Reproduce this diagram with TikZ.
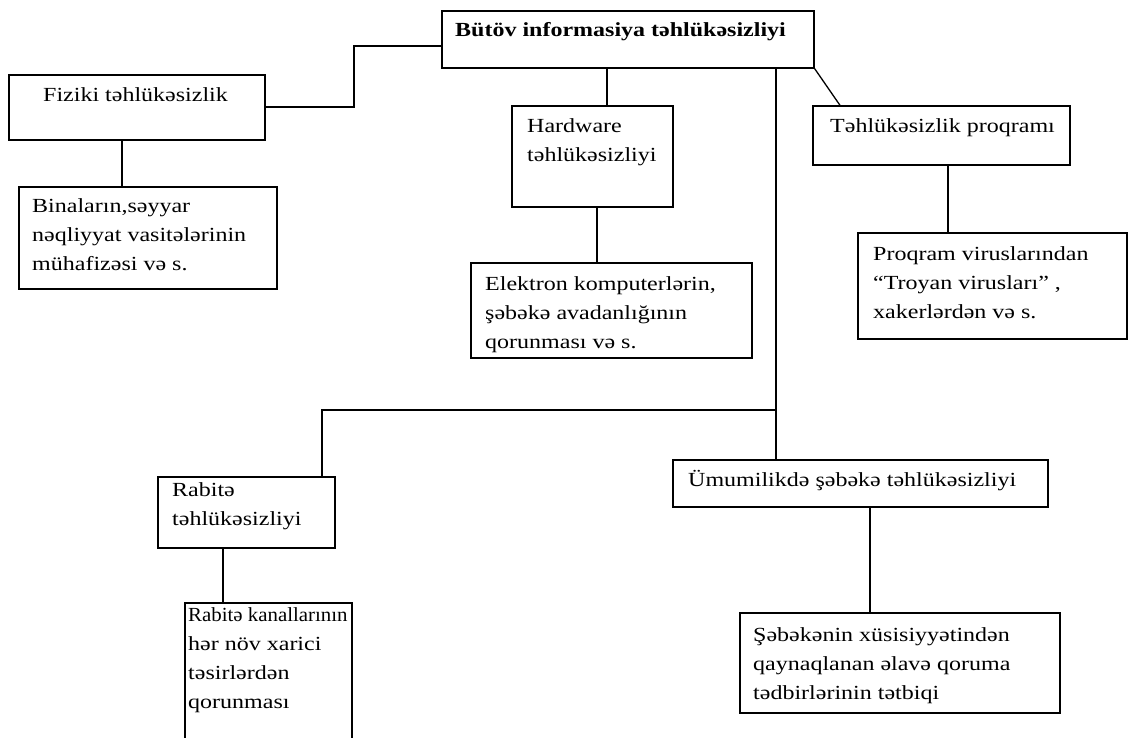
\documentclass[tikz,border=0pt]{standalone}
\usepackage{fontspec}
\setmainfont{Liberation Serif}[FakeStretch=1.2]
\newcommand\mlines[1]{\begin{tabular}[t]{@{}l@{}}#1\end{tabular}}
\begin{document}
\begin{tikzpicture}[x=1pt,y=-1pt,
  box/.style={draw=black, line width=1.3pt, inner sep=0pt, fill=none},
  txt/.style={anchor=base west, inner sep=0pt, font=\fontsize{20}{29}\selectfont, text=black},
  conn/.style={draw=black, line width=1.3pt}]
\useasboundingbox (0,0) rectangle (1129,738);
\clip (0,0) rectangle (1129,738);
\fill[white] (0,0) rectangle (1129,738);
% boxes
\node[box, minimum width=372pt, minimum height=57pt] (top) at (628,39.5) {};
\node[box, minimum width=256pt, minimum height=65pt] (fiz) at (137,107.5) {};
\node[box, minimum width=258pt, minimum height=102pt] (bin) at (148,238) {};
\node[box, minimum width=161pt, minimum height=101pt] (hw) at (592.5,156.5) {};
\node[box, minimum width=281pt, minimum height=95pt] (elek) at (611.5,310.5) {};
\node[box, minimum width=257pt, minimum height=59pt] (tp) at (941.5,135.5) {};
\node[box, minimum width=269pt, minimum height=106pt] (prog) at (992.5,286) {};
\node[box, minimum width=177pt, minimum height=71pt] (rab) at (246.5,512.5) {};
\node[box, minimum width=167pt, minimum height=142pt] (rk) at (268.5,674) {};
\node[box, minimum width=375pt, minimum height=47pt] (um) at (860.5,483.5) {};
\node[box, minimum width=320pt, minimum height=100pt] (seb) at (900,663) {};
% texts
\node[txt, font=\fontsize{20}{29}\selectfont\bfseries] (topt) at (455,36.7) {Bütöv informasiya təhlükəsizliyi};
\node[txt] (fizt) at (43,101.7) {Fiziki təhlükəsizlik};
\node[txt] (bint) at (32,212.5) {\mlines{Binaların,səyyar\\nəqliyyat vasitələrinin\\mühafizəsi və s.}};
\node[txt] (hwt) at (527,133) {\mlines{Hardware\\təhlükəsizliyi}};
\node[txt] (elekt) at (485,290) {\mlines{Elektron komputerlərin,\\şəbəkə avadanlığının\\qorunması və s.}};
\node[txt] (tpt) at (830,133) {Təhlükəsizlik proqramı};
\node[txt] (progt) at (873,260) {\mlines{Proqram viruslarından\\“Troyan virusları” ,\\xakerlərdən və s.}};
\node[txt] (rabt) at (172,496.7) {\mlines{Rabitə\\təhlükəsizliyi}};
\node[txt] (rkt) at (188,621.7) {\mlines{\scalebox{0.87}[1]{Rabitə kanallarının}\\hər növ xarici\\təsirlərdən\\qorunması}};
\node[txt] (umt) at (688,486.7) {Ümumilikdə şəbəkə təhlükəsizliyi};
\node[txt] (sebt) at (753,641.7) {\mlines{Şəbəkənin xüsisiyyətindən\\qaynaqlanan əlavə qoruma\\tədbirlərinin tətbiqi}};
% junction coordinates
\coordinate (j1) at (354,46);
\coordinate (j2) at (354,107);
\coordinate (x1) at (122,0);
\coordinate (x2) at (607,0);
\coordinate (x3) at (597,0);
\coordinate (x4) at (840,0);
\coordinate (x5) at (948,0);
\coordinate (x6) at (776,0);
\coordinate (j3) at (776,410);
\coordinate (j4) at (322,410);
\coordinate (x7) at (223,0);
\coordinate (x8) at (870,0);
% connectors
\draw[conn] (top.west |- j1) -- (j1) -- (j2) -- (fiz.east |- j2);
\draw[conn] (fiz.south -| x1) -- (bin.north -| x1);
\draw[conn] (top.south -| x2) -- (hw.north -| x2);
\draw[conn] (hw.south -| x3) -- (elek.north -| x3);
\draw[conn] (top.south east) -- (tp.north -| x4);
\draw[conn] (tp.south -| x5) -- (prog.north -| x5);
\draw[conn] (top.south -| x6) -- (j3) -- (um.north -| x6);
\draw[conn] (j3) -- (j4) -- (rab.north -| j4);
\draw[conn] (rab.south -| x7) -- (rk.north -| x7);
\draw[conn] (um.south -| x8) -- (seb.north -| x8);
\end{tikzpicture}
\end{document}
